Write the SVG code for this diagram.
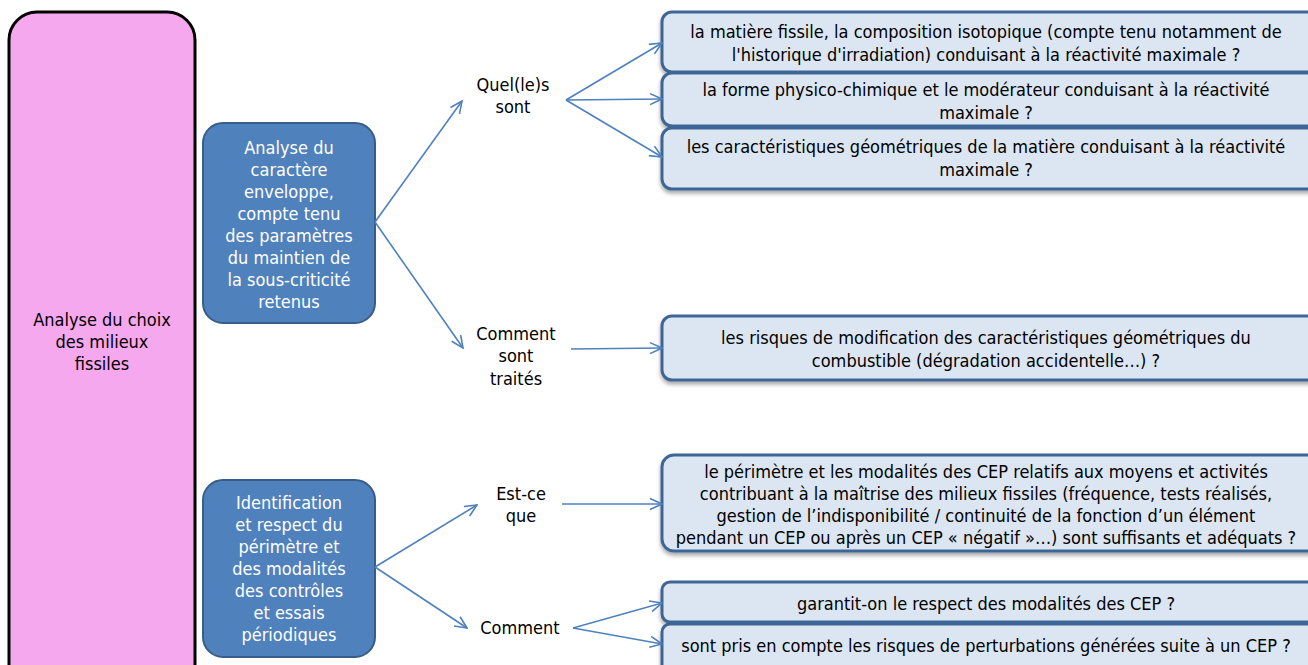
<svg xmlns="http://www.w3.org/2000/svg" width="1308" height="665" viewBox="0 0 1308 665">
  <style>
    text { font-family: "DejaVu Sans Condensed", "Liberation Sans", sans-serif; font-size: 18px; text-anchor: middle; fill: #000; }
    .white { fill: #fff; }
    .root { fill: #F5A8EE; stroke: #000; stroke-width: 3; }
    .branch { fill: #4F81BD; stroke: #385D8A; stroke-width: 2; }
    .leaf { fill: #DCE6F2; stroke: #3E6697; stroke-width: 3; filter: url(#shadow); }
    .conn { stroke: #4F81BD; stroke-width: 1.6; fill: none; marker-end: url(#arrow); }
  </style>
  <defs>
    <marker id="arrow" viewBox="0 0 14 14" refX="13" refY="7" markerWidth="14" markerHeight="14" markerUnits="userSpaceOnUse" orient="auto">
      <path d="M1,1.5 L13,7 L1,12.5" fill="none" stroke="#4F81BD" stroke-width="1.6"/>
    </marker>
    <filter id="shadow" x="-5%" y="-10%" width="110%" height="130%">
      <feGaussianBlur in="SourceAlpha" stdDeviation="2"/>
      <feOffset dx="0" dy="3" result="b"/>
      <feComponentTransfer><feFuncA type="linear" slope="0.35"/></feComponentTransfer>
      <feMerge><feMergeNode/><feMergeNode in="SourceGraphic"/></feMerge>
    </filter>
  </defs>

  <g id="root">
    <rect class="root" x="9" y="12" width="186" height="680" rx="28"/>
    <text x="102" y="326">Analyse du choix</text>
    <text x="102" y="348">des milieux</text>
    <text x="102" y="370">fissiles</text>
  </g>

  <g id="branch-analyse">
    <rect class="branch" x="203" y="123" width="172" height="200" rx="20"/>
    <text class="white" x="289" y="154">Analyse du</text>
    <text class="white" x="289" y="176">caractère</text>
    <text class="white" x="289" y="198">enveloppe,</text>
    <text class="white" x="289" y="220">compte tenu</text>
    <text class="white" x="289" y="242">des paramètres</text>
    <text class="white" x="289" y="264">du maintien de</text>
    <text class="white" x="289" y="286">la sous-criticité</text>
    <text class="white" x="289" y="308">retenus</text>
  </g>

  <g id="branch-cep">
    <rect class="branch" x="203" y="480" width="172" height="177" rx="20"/>
    <text class="white" x="289" y="509">Identification</text>
    <text class="white" x="289" y="531">et respect du</text>
    <text class="white" x="289" y="553">périmètre et</text>
    <text class="white" x="289" y="575">des modalités</text>
    <text class="white" x="289" y="597">des contrôles</text>
    <text class="white" x="289" y="619">et essais</text>
    <text class="white" x="289" y="641">périodiques</text>
  </g>

  <g id="label-quels">
    <text x="513" y="91">Quel(le)s</text>
    <text x="513" y="113">sont</text>
  </g>
  <g id="label-comment-traites">
    <text x="516" y="340">Comment</text>
    <text x="516" y="362">sont</text>
    <text x="516" y="385">traités</text>
  </g>
  <g id="label-estce">
    <text x="521" y="500">Est-ce</text>
    <text x="521" y="522">que</text>
  </g>
  <g id="label-comment">
    <text x="520" y="634">Comment</text>
  </g>

  <g id="leaf-matiere">
    <rect class="leaf" x="662" y="12" width="660" height="60" rx="10"/>
    <text x="986" y="38">la matière fissile, la composition isotopique (compte tenu notamment de</text>
    <text x="986" y="61">l'historique d'irradiation) conduisant à la réactivité maximale ?</text>
  </g>
  <g id="leaf-forme">
    <rect class="leaf" x="662" y="73" width="660" height="53" rx="10"/>
    <text x="986" y="96">la forme physico-chimique et le modérateur conduisant à la réactivité</text>
    <text x="986" y="119">maximale ?</text>
  </g>
  <g id="leaf-geometrie">
    <rect class="leaf" x="662" y="128" width="660" height="61" rx="10"/>
    <text x="986" y="153">les caractéristiques géométriques de la matière conduisant à la réactivité</text>
    <text x="986" y="176">maximale ?</text>
  </g>
  <g id="leaf-risques">
    <rect class="leaf" x="662" y="316" width="660" height="64" rx="10"/>
    <text x="986" y="344">les risques de modification des caractéristiques géométriques du</text>
    <text x="986" y="367">combustible (dégradation accidentelle…) ?</text>
  </g>
  <g id="leaf-perimetre">
    <rect class="leaf" x="662" y="455" width="660" height="96" rx="12"/>
    <text x="986" y="478">le périmètre et les modalités des CEP relatifs aux moyens et activités</text>
    <text x="986" y="500">contribuant à la maîtrise des milieux fissiles (fréquence, tests réalisés,</text>
    <text x="986" y="522">gestion de l’indisponibilité / continuité de la fonction d’un élément</text>
    <text x="986" y="544">pendant un CEP ou après un CEP « négatif »…) sont suffisants et adéquats ?</text>
  </g>
  <g id="leaf-garantit">
    <rect class="leaf" x="662" y="582" width="660" height="40" rx="8"/>
    <text x="986" y="610">garantit-on le respect des modalités des CEP ?</text>
  </g>
  <g id="leaf-perturbations">
    <rect class="leaf" x="662" y="624" width="660" height="60" rx="8"/>
    <text x="986" y="652">sont pris en compte les risques de perturbations générées suite à un CEP ?</text>
  </g>

  <g id="connectors">
    <line class="conn" x1="375" y1="222" x2="462" y2="101"/>
    <line class="conn" x1="375" y1="222" x2="463" y2="348"/>
    <line class="conn" x1="566" y1="100" x2="662" y2="43"/>
    <line class="conn" x1="566" y1="100" x2="662" y2="99"/>
    <line class="conn" x1="566" y1="100" x2="662" y2="157"/>
    <line class="conn" x1="571" y1="349" x2="662" y2="348"/>
    <line class="conn" x1="375" y1="567" x2="477" y2="505"/>
    <line class="conn" x1="375" y1="567" x2="467" y2="628"/>
    <line class="conn" x1="562" y1="504" x2="662" y2="504"/>
    <line class="conn" x1="573" y1="628" x2="662" y2="603"/>
    <line class="conn" x1="573" y1="628" x2="662" y2="644"/>
  </g>
</svg>
